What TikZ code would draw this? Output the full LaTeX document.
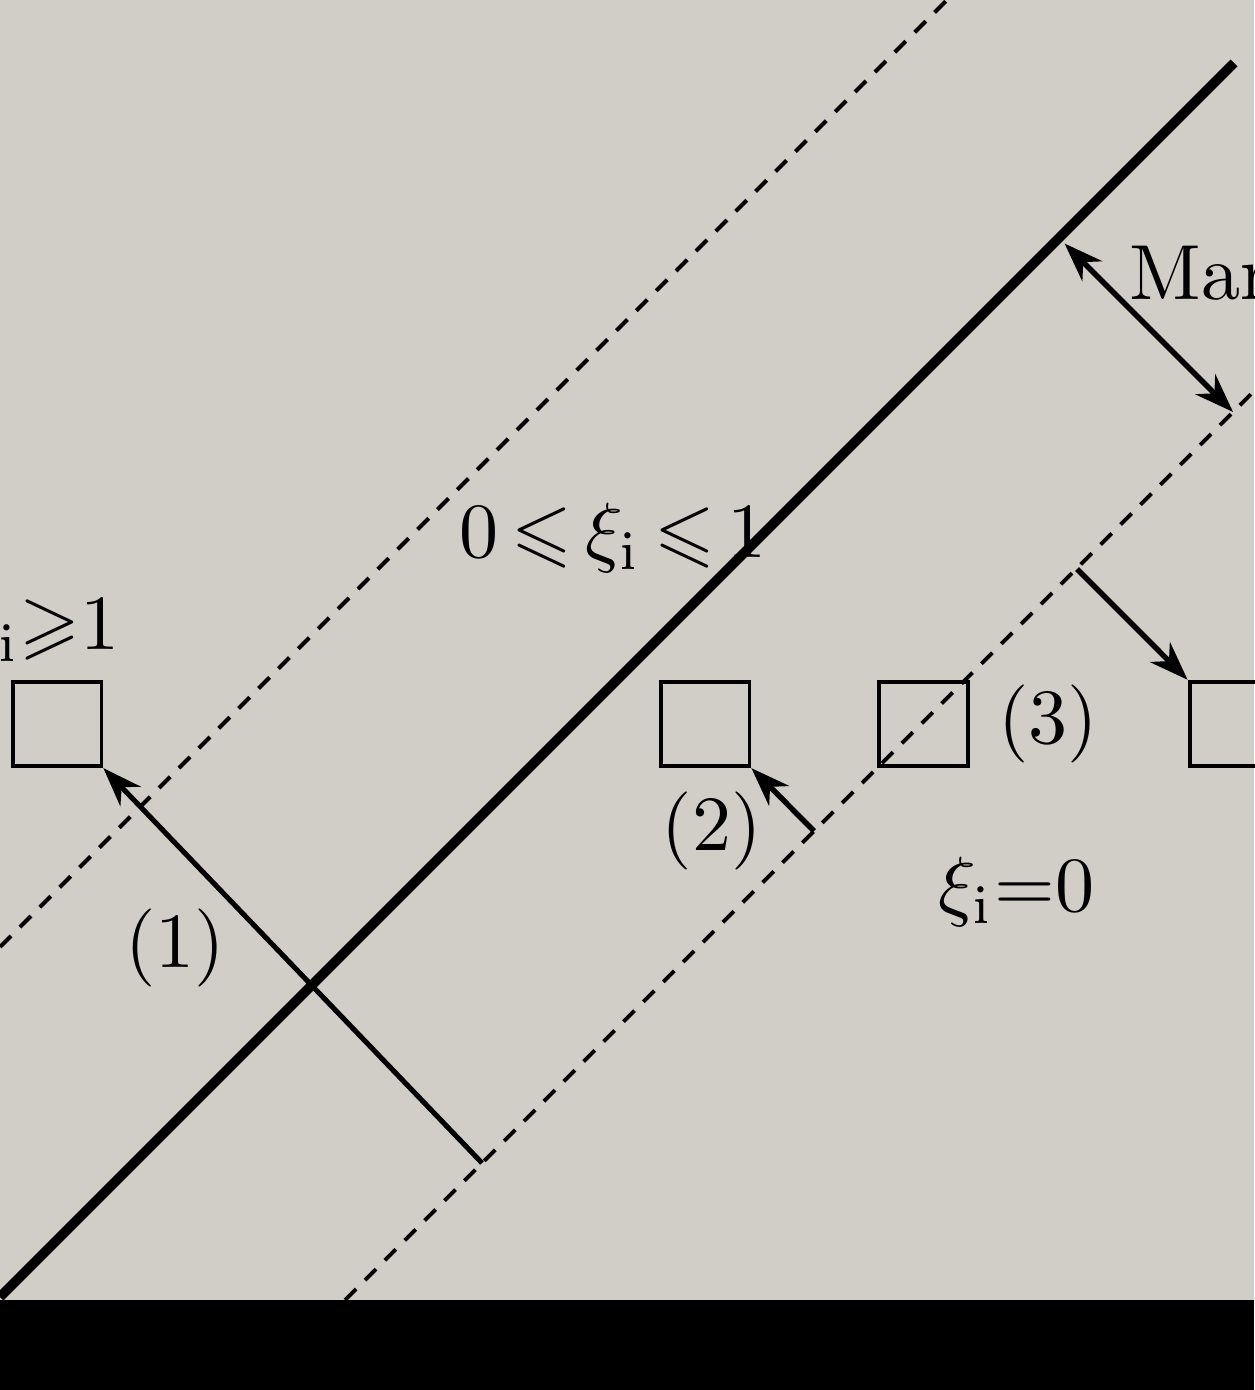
\documentclass[tikz,border=0pt]{standalone}
\usepackage{amssymb}
\usetikzlibrary{positioning, arrows.meta}
\definecolor{paper}{RGB}{209,206,200}

\begin{document}
\begin{tikzpicture}[
    % pixel-like units, y pointing down
    x=0.045mm, y=-0.045mm,
    sample/.style={
        rectangle,
        draw=black,
        line width=0.5pt,
        minimum width=0.4cm,
        minimum height=0.38cm,
        inner sep=0pt
    },
    hyperplane/.style={line width=1.25pt},
    boundary/.style={line width=0.5pt, dash pattern=on 2pt off 1.6pt},
    slack/.style={
        -{Stealth[length=5pt, width=3.6pt]}, % filled arrowhead
        line width=0.7pt
    },
    measure/.style={
        {Stealth[length=5pt, width=3.6pt]}-{Stealth[length=5pt, width=3.6pt]},
        line width=0.7pt
    },
    label text/.style={
        font=\normalsize,
        inner sep=0pt
    }
]

    % --- 0. Paper and bottom band ---
    \useasboundingbox (0,0) rectangle (1254,1390);
    \fill[paper] (0,0) rectangle (1254,1300);
    \fill[black] (0,1300) rectangle (1254,1390);

    % --- 1. Lines ---
    \coordinate (hypLow) at (0,1297);
    \coordinate (hypHigh) at (1234,63);
    \coordinate (upLow) at (0,947);
    \coordinate (upHigh) at (947,0);
    \coordinate (dnLow) at (345,1300);
    \coordinate (dnHigh) at (1254,391);

    \draw[boundary] (upLow) -- (upHigh);
    \draw[boundary] (dnLow) -- (dnHigh);
    \draw[hyperplane] (hypLow) -- (hypHigh);

    % --- 2. Samples ---
    \node[sample] (box1) at (57,724) {};
    \node[sample] (box2) at (705,724) {};
    \node[sample] (box3) [right=0.565cm of box2] {};
    \node[sample] (box4) [right=0.98cm of box3] {};

    % --- 3. Arrows ---
    \coordinate (footA) at (482,1163);
    \coordinate (footB) at (814,831);
    \coordinate (footC) at (1077,569);
    \coordinate (marginA) at (1059,238);
    \coordinate (marginB) at (1233,412);

    % (1) across the hyperplane
    \draw[slack, line width=0.65pt] (footA) -- (box1.south east);
    % (2) inside the margin
    \draw[slack] (footB) -- (box2.south east);
    % (3) outside the margin
    \draw[slack] (footC) -- (box4.north west);
    % margin width
    \draw[measure, shorten <=1pt] (marginA) -- (marginB);

    % --- 4. Labels ---
    \node[label text, anchor=base east] (bigslack) at (121,650) {$\xi_{\mathrm{i}}{\geqslant}1$};
    \node[label text, anchor=base west] (midslack) at (458,558)
        {$\thickmuskip=3mu 0\leqslant\xi_{\mathrm{i}}\leqslant1$};
    \node[label text, anchor=base west] (zeroslack) at (937,912) {$\xi_{\mathrm{i}}{=}0$};
    \node[label text, anchor=base west] (marginlab) at (1128,300) {Margin};
    \node[label text] (lab1) at (175,948) {(1)};
    \node[label text] (lab2) [below=0.1cm of box2, xshift=0.03cm] {(2)};
    \node[label text] (lab3) [right=0.12cm of box3] {(3)};

\end{tikzpicture}
\end{document}
